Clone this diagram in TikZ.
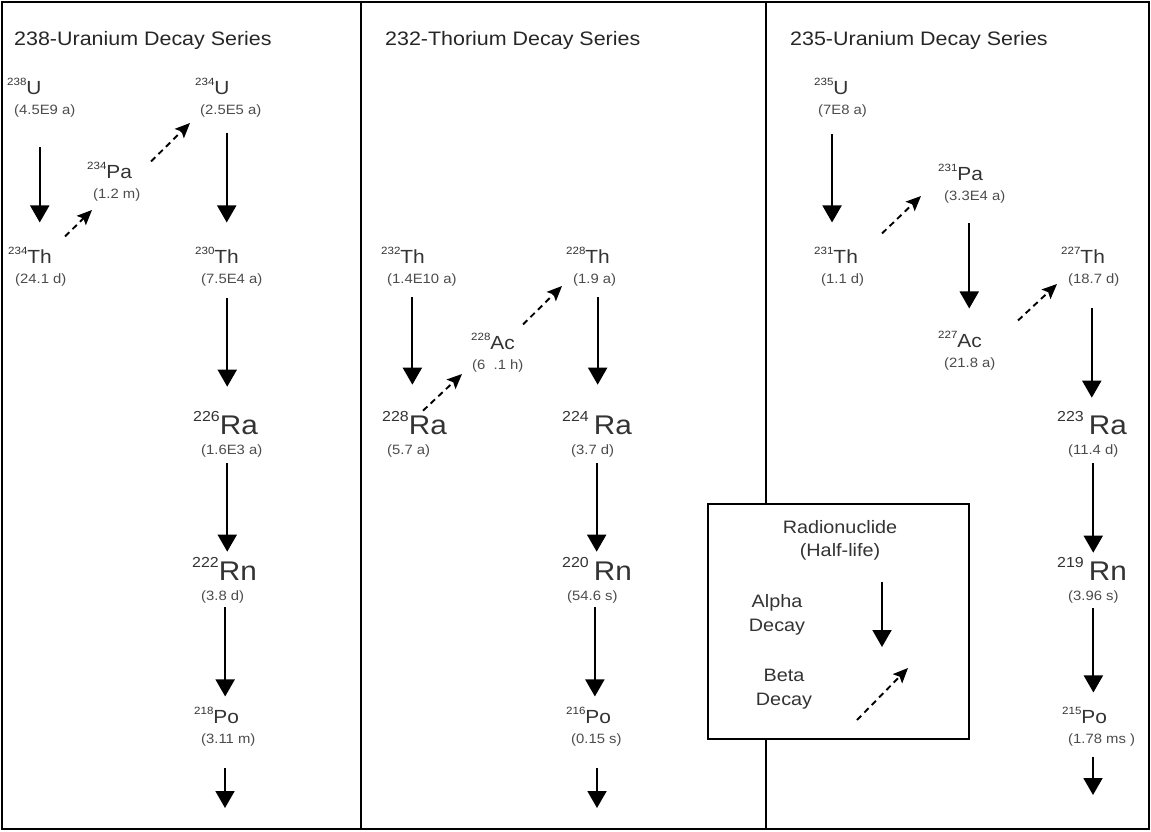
\documentclass[tikz,border=0pt]{standalone}
\usepackage{fontspec}
\setmainfont{Liberation Sans}[FakeStretch=1.1]
\usetikzlibrary{arrows.meta}
\newcommand\iso[2]{\raisebox{9pt}{\fontsize{10.5}{11}\selectfont#1}#2}
\newcommand\isobig[2]{\raisebox{13pt}{\fontsize{14.5}{15}\selectfont#1}#2}
\begin{document}
\begin{tikzpicture}[x=1pt,y=-1pt,
  nuc/.style={inner sep=0pt, anchor=base west, text=black!80, font=\fontsize{19}{20}\selectfont},
  bignuc/.style={nuc, font=\fontsize{27}{30}\selectfont},
  life/.style={inner sep=0pt, anchor=base west, text=black!70, font=\fontsize{13.5}{15}\selectfont},
  series/.style={inner sep=0pt, anchor=base west, text=black!85, font=\fontsize{19.5}{22}\selectfont},
  keytext/.style={inner sep=0pt, anchor=north, align=center, text=black!80, font=\fontsize{18}{24}\selectfont},
  alpha/.style={line width=1.9pt, -{Triangle[width=19pt,length=17pt]}},
  beta/.style={line width=1.9pt, dash pattern=on 6pt off 4.5pt, -{Stealth[width=13pt,length=15pt,inset=3pt]}}]
  \useasboundingbox (0,0) rectangle (1151,831);
  \draw[line width=2pt] (2,2) rectangle (1149,829);
  \draw[line width=2pt] (361,2) -- (361,829) (766,2) -- (766,829);
  \foreach \x/\nm [count=\i] in {14/238-Uranium, 385/232-Thorium, 790/235-Uranium}
    \node[series] (series\i) at (\x,45) {\nm{} Decay Series};

  % nuclides: name/x/y/mass/symbol/shift of half-life/half-life
  \foreach \n/\x/\y/\m/\s/\dx/\hl in {U238/7/94/238/U/7/4.5E9 a, Th234/8/263/234/Th/7/24.1 d,
      Pa234/87/178/234/Pa/6/1.2 m, U234/195/94/234/U/5/2.5E5 a, Th230/195/263/230/Th/6/7.5E4 a,
      Po218/194/723/218/Po/7/3.11 m, Th232/381/263/232/Th/6/1.4E10 a, Ac228/471/349/228/Ac/1/6~~.1 h,
      Th228/566/263/228/Th/7/1.9 a, Po216/566/723/216/Po/5/0.15 s, U235/814/94/235/U/4/7E8 a,
      Th231/814/263/231/Th/7/1.1 d, Pa231/938/180/231/Pa/6/3.3E4 a, Ac227/938/347/227/Ac/6/21.8 a,
      Th227/1061/263/227/Th/7/18.7 d, Po215/1062/723/215/Po/6/1.78 ms~}{
    \node[nuc] (\n) at (\x,\y) {\iso{\m}{\s}};
    \node[life] (\n-life) at ([shift={(\dx,20)}]\n.base west) {(\hl)};
  }
  \foreach \n/\x/\y/\m/\s/\dx/\hl in {Ra226/193/434/226/Ra/8/1.6E3 a, Rn222/192/580/222/Rn/9/3.8 d,
      Ra228/382/434/228/Ra/5/5.7 a, Ra224/562/434/224\kern5pt/Ra/9/3.7 d, Rn220/562/580/220\kern5pt/Rn/5/54.6 s,
      Ra223/1057/434/223\kern5pt/Ra/11/11.4 d, Rn219/1057/580/219\kern5pt/Rn/11/3.96 s}{
    \node[bignuc] (\n) at (\x,\y) {\isobig{\m}{\s}};
    \node[life] (\n-life) at ([shift={(\dx,20)}]\n.base west) {(\hl)};
  }

  % alpha decays
  \foreach \a/\b/\dx/\s/\e in {U238/Th234/-5/30/24, U234/Th230/-4/16/24, Th230/Ra226/-4.5/12/24,
      Ra226/Rn222/-4.5/6/5, Rn222/Po218/2.5/4/10, Th232/Ra228/-9.5/11/26, Th228/Ra224/3/11/26,
      Ra224/Rn220/4/6/5, Rn220/Po216/2.5/4/10, U235/Th231/-10.5/17/24, Pa231/Ac227/-5.5/20/22,
      Th227/Ra223/-2/22/13, Ra223/Rn219/0/6/4, Rn219/Po215/0/5/14}
    \draw[alpha, shorten <=\s pt, shorten >=\e pt] ([xshift=\dx pt]\a-life.south) -- ([xshift=\dx pt]\a-life.south |- \b.north);
  \foreach \a/\x/\y/\s in {Po218/225/808/22, Po216/597/808/22, Po215/1093/795/11}{
    \coordinate (\a-end) at (\x,\y);
    \draw[alpha, shorten <=\s pt] (\a-life.south -| \a-end) -- (\a-end);
  }

  % beta decays
  \foreach \a/\ax/\ay/\b/\bx/\by in {Th234/57/-10/Pa234/-1/9, Pa234/64/0/U234/-10/6,
      Ra228/41/0/Ac228/-10/2, Ac228/52/-8/Th228/-11/0, Th231/68/-13/Pa231/-23/-7,
      Ac227/80/-10/Th227/-11/-2}
    \draw[beta] ([shift={(\ax,\ay)}]\a.north west) -- ([shift={(\bx,\by)}]\b-life.south west);

  % key
  \node[draw, line width=2pt, fill=white, minimum width=261pt, minimum height=235pt] (key) at (838.5,621.5) {};
  \node[keytext, font=\fontsize{18}{23}\selectfont] (keyhead) at (840,519.9) {Radionuclide\\(Half-life)};
  \node[keytext] (keyalpha) at (777,593.9) {Alpha\\Decay};
  \node[keytext] (keybeta) at (784,669) {Beta\\Decay};
  \coordinate (ka1) at (882,582); \coordinate (ka2) at (882,647);
  \coordinate (kb1) at (857,720); \coordinate (kb2) at (908,668);
  \draw[alpha] (ka1) -- (ka2);
  \draw[beta] (kb1) -- (kb2);
\end{tikzpicture}
\end{document}
